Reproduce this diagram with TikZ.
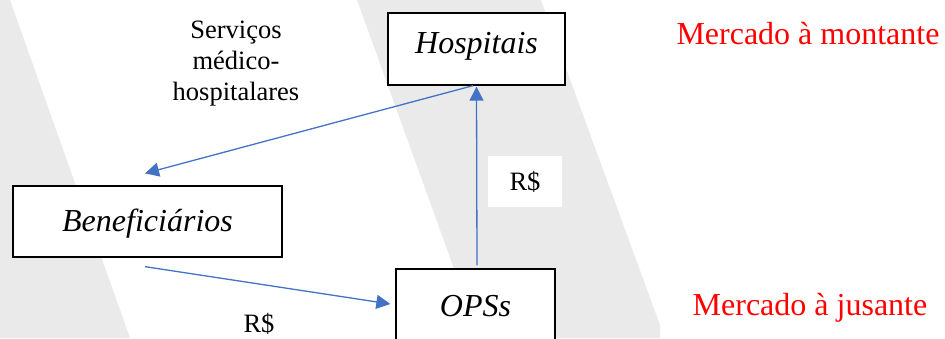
\documentclass[tikz,border=0pt]{standalone}
\usepackage{fontspec}
\setmainfont{Liberation Serif}
\usetikzlibrary{arrows.meta,calc}
\definecolor{stripe}{RGB}{234,234,234}
\definecolor{arrblue}{RGB}{68,114,196}
\definecolor{mktred}{RGB}{255,0,0}
\begin{document}
\begin{tikzpicture}[x=1pt,y=-1pt,
  box/.style={draw=black, line width=1.3pt, fill=white, inner sep=0pt,
    font=\fontsize{32}{36}\selectfont\itshape},
  lbl/.style={font=\fontsize{26.5}{31}\selectfont, inner sep=0pt},
  mkt/.style={font=\fontsize{32}{36}\selectfont, text=mktred, inner sep=0pt},
  arr/.style={draw=arrblue, line width=1.3pt, -{Triangle[length=14pt,width=14pt]}}]
\useasboundingbox (0,0) rectangle (945,338);
\fill[stripe] (0,0) -- (10,0) -- (130,338) -- (0,338) -- cycle;
\fill[stripe] (357,0) -- (541,0) -- (660,325) -- (660,338) -- (479,338) -- cycle;
\node[box, minimum width=177pt, minimum height=72pt, text height=20pt, text depth=12pt] (hosp) at (476.5,49) {Hospitais};
\node[box, minimum width=269pt, minimum height=71pt, text height=22pt, text depth=3pt] (ben) at (147.5,221.5) {Beneficiários};
\node[box, minimum width=159pt, minimum height=76pt, text height=22pt, text depth=4pt] (ops) at (475.5,307) {OPSs};
\node[lbl, align=center, anchor=base] (serv) at (236,100) {Serviços\\médico-\\hospitalares};
\node[lbl, fill=white, minimum width=74pt, minimum height=51pt, text height=17.5pt, text depth=0pt] (rs1) at (525,181.5) {R\$};
\node[lbl, anchor=base] (rs2) at (259,332) {R\$};
\node[mkt, anchor=base] (mont) at (808,44) {Mercado à montante};
\node[mkt, anchor=base] (jus) at (810,315) {Mercado à jusante};
\draw[arr] ($(hosp.south)+(-3.5,0)$) -- ($(ben.north)+(-2.5,-12)$);
\draw[arr] ($(ben.south)+(-2.5,9)$) -- ($(ops.west)+(-5,-3)$);
\draw[arr] ($(ops.north)+(1.5,-3)$) -- ($(hosp.south)+(0,1)$);
\end{tikzpicture}
\end{document}
